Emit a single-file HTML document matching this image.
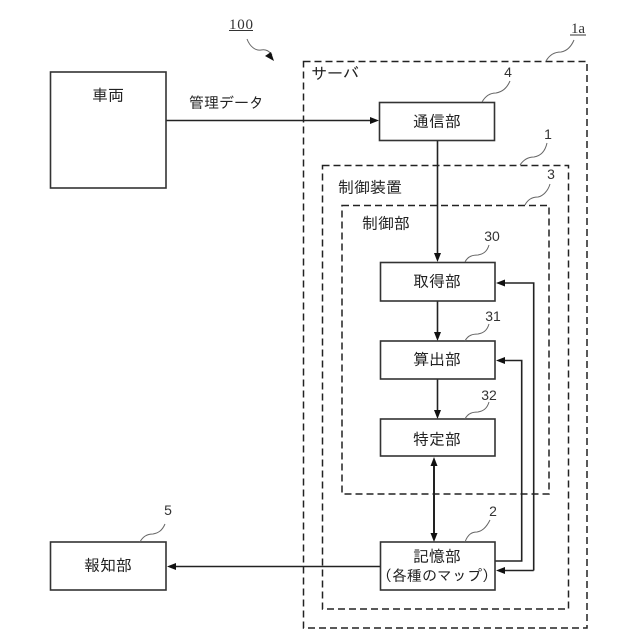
<!DOCTYPE html>
<html lang="ja">
<head>
<meta charset="utf-8">
<style>
html,body{margin:0;padding:0;background:#fff}
svg{display:block;filter:blur(.3px)}
text{font-family:"Liberation Sans","IPAGothic","Noto Sans CJK JP",sans-serif;fill:#222}
.j{font-family:"IPAGothic","Noto Sans CJK JP",sans-serif;font-size:16px}
.m{font-family:"IPAGothic","Noto Sans CJK JP",sans-serif;font-size:15px}
.n{font-size:14px;fill:#333}
.r{font-family:"Liberation Serif",serif;font-size:15px;fill:#333}
.box{fill:#fff;stroke:#333;stroke-width:1.6}
.d{fill:none;stroke:#222;stroke-width:1.5;stroke-dasharray:7 4}
.l{fill:none;stroke:#222;stroke-width:1.6}
.s{fill:none;stroke:#666;stroke-width:1}
.a{fill:#111}
</style>
</head>
<body>
<svg width="640" height="640" viewBox="0 0 640 640" xmlns="http://www.w3.org/2000/svg">
<rect width="640" height="640" fill="#fff"/>

<!-- dashed containers -->
<rect class="d" x="303.5" y="61.5" width="283.5" height="566.5"/>
<rect class="d" x="322.5" y="165.5" width="246" height="443.5"/>
<rect class="d" x="342" y="205.5" width="207" height="288.5"/>

<!-- connectors -->
<path class="l" d="M166 120.5H373"/>
<path class="a" d="M379 120.5l-9-3.5v7z"/>
<path class="l" d="M437.5 140.5V256"/>
<path class="a" d="M437.5 262l-3.5-9h7z"/>
<path class="l" d="M437.5 301V335"/>
<path class="a" d="M437.5 341l-3.5-9h7z"/>
<path class="l" d="M437.5 379V413"/>
<path class="a" d="M437.5 419l-3.5-9h7z"/>
<path class="l" style="stroke-width:2" d="M434 462V536"/>
<path class="a" d="M434 457l-3.5 9h7z"/>
<path class="a" d="M434 542l-3.5-9h7z"/>
<path class="l" d="M380 566.5H173"/>
<path class="a" d="M167 566.5l9-3.5v7z"/>
<path class="l" d="M495 561H521.7V360.5H501"/>
<path class="a" d="M496 360.5l9-3.5v7z"/>
<path class="l" d="M533.7 570.5V283H501"/>
<path class="l" d="M533.7 570.5H501"/>
<path class="a" d="M496 283l9-3.5v7z"/>
<path class="a" d="M496 570.5l9-3.5v7z"/>

<!-- boxes -->
<rect class="box" x="50.5" y="72" width="115.5" height="116"/>
<rect class="box" x="379.5" y="102.5" width="115" height="38"/>
<rect class="box" x="380.5" y="262.5" width="114.5" height="38.5"/>
<rect class="box" x="380.5" y="341" width="114.5" height="38"/>
<rect class="box" x="380.5" y="419" width="114.5" height="37"/>
<rect class="box" x="380.5" y="542" width="114.5" height="48"/>
<rect class="box" x="50.5" y="542" width="115.5" height="48"/>

<!-- labels -->
<text class="j" x="108" y="101" text-anchor="middle">車両</text>
<text class="m" x="189" y="108">管理データ</text>
<text class="j" x="311" y="79">サーバ</text>
<text class="j" x="437" y="127" text-anchor="middle">通信部</text>
<text class="j" x="338" y="193">制御装置</text>
<text class="j" x="362" y="229">制御部</text>
<text class="j" x="437" y="287" text-anchor="middle">取得部</text>
<text class="j" x="437" y="365" text-anchor="middle">算出部</text>
<text class="j" x="437" y="445" text-anchor="middle">特定部</text>
<text class="j" x="437" y="562" text-anchor="middle">記憶部</text>
<text class="m" x="437" y="581" text-anchor="middle">（各種のマップ）</text>
<text class="j" x="108" y="571" text-anchor="middle">報知部</text>

<!-- reference numbers -->
<text class="r" x="229" y="29" textLength="24">100</text>
<path d="M229 30.5H253" stroke="#333" stroke-width="1" fill="none"/>
<text class="r" x="571" y="33" textLength="14">1a</text>
<path d="M570 35H586" stroke="#333" stroke-width="1" fill="none"/>
<text class="n" x="508" y="77" text-anchor="middle">4</text>
<text class="n" x="548" y="139" text-anchor="middle">1</text>
<text class="n" x="551" y="179" text-anchor="middle">3</text>
<text class="n" x="492" y="241" text-anchor="middle">30</text>
<text class="n" x="493" y="321" text-anchor="middle">31</text>
<text class="n" x="489" y="400" text-anchor="middle">32</text>
<text class="n" x="493" y="516" text-anchor="middle">2</text>
<text class="n" x="168" y="515" text-anchor="middle">5</text>

<!-- leader squiggles -->
<path class="s" d="M247 39c3 8 9 12 14 11c5-1 8 1 11 5"/>
<path class="a" d="M274 61l-9-5l6-4z"/>
<path class="s" d="M546 61c4-7 10-9 15-9c6-1 10-5 13-12"/>
<path class="s" d="M482 102c4-7 9-9 14-9c6-1 11-5 14-12"/>
<path class="s" d="M520 165c4-6 9-8 14-8c6-1 11-5 13-14"/>
<path class="s" d="M525 205c3-6 8-8 13-8c5-1 10-6 12-13"/>
<path class="s" d="M465 262c3-6 8-7 13-7c5-1 9-3 11-10"/>
<path class="s" d="M465 341c3-6 8-7 13-7c5-1 9-3 11-10"/>
<path class="s" d="M465 419c3-6 8-7 13-7c5-1 9-3 11-10"/>
<path class="s" d="M465 542c3-8 7-10 12-10c5-1 9-4 13-12"/>
<path class="s" d="M140 542c3-6 8-8 13-8c5-1 9-3 12-10"/>
</svg>
</body>
</html>
